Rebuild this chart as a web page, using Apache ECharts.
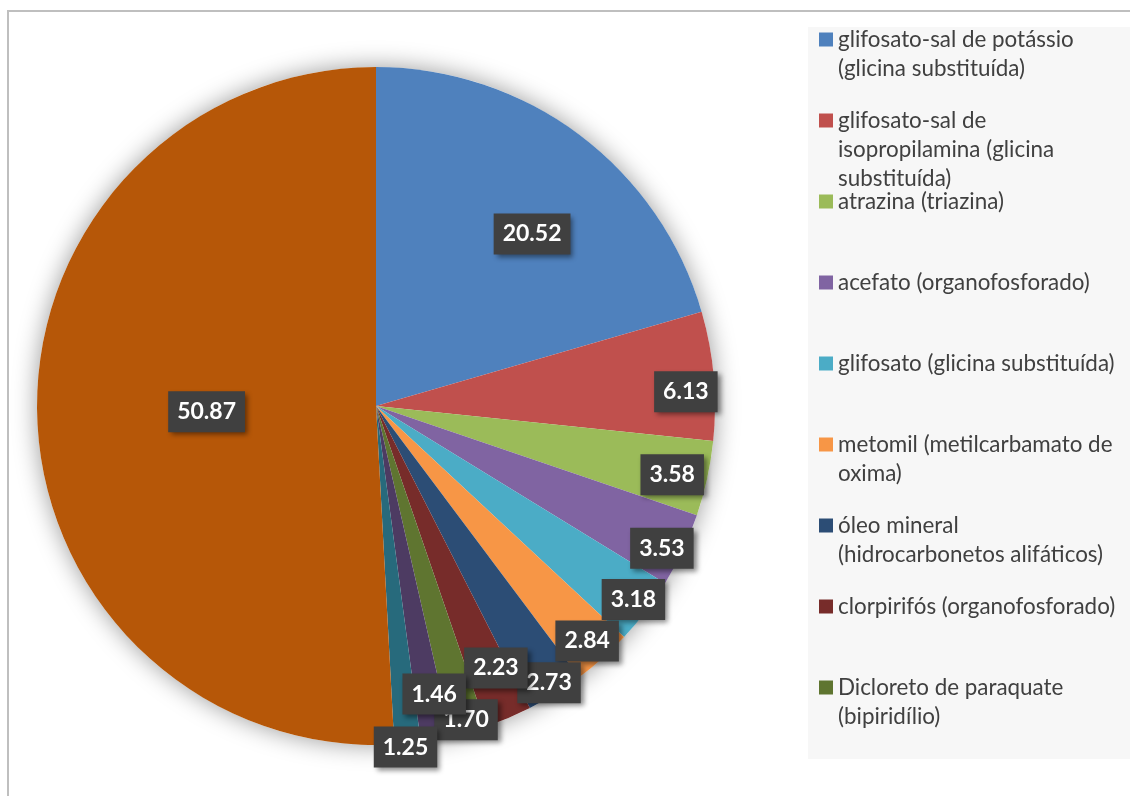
<!DOCTYPE html>
<html>
<head>
<meta charset="utf-8">
<script src="https://cdn.jsdelivr.net/npm/echarts@6/dist/echarts.min.js"></script>
<style>
  html, body { margin: 0; padding: 0; background: #ffffff; }
  #chart { width: 1130px; height: 796px; }
</style>
</head>
<body>
<div id="chart"></div>
<script>
// Active ingredients (share of sales, %)
const categories = [
  'glifosato-sal de potássio (glicina substituída)',
  'glifosato-sal de isopropilamina (glicina substituída)',
  'atrazina (triazina)',
  'acefato (organofosforado)',
  'glifosato (glicina substituída)',
  'metomil (metilcarbamato de oxima)',
  'óleo mineral (hidrocarbonetos alifáticos)',
  'clorpirifós (organofosforado)',
  'Dicloreto de paraquate (bipiridílio)',
  '2,4-D (ácido ariloxialcanoico)',
  'mancozebe (ditiocarbamato)',
  'demais ingredientes ativos'
];
const values = [20.52, 6.13, 3.58, 3.53, 3.18, 2.84, 2.73, 2.23, 1.70, 1.46, 1.25, 50.87];

// Legend entries as they wrap in the key (only the first nine are listed)
const legendText = [
  'glifosato-sal de potássio\n(glicina substituída)',
  'glifosato-sal de\nisopropilamina (glicina\nsubstituída)',
  'atrazina (triazina)',
  'acefato (organofosforado)',
  'glifosato (glicina substituída)',
  'metomil (metilcarbamato de\noxima)',
  'óleo mineral\n(hidrocarbonetos alifáticos)',
  'clorpirifós (organofosforado)',
  'Dicloreto de paraquate\n(bipiridílio)'
];

// Office palette
const colors = ['#4F81BD', '#C0504D', '#9BBB59', '#8064A2', '#4BACC6', '#F79646',
                '#2C4D75', '#772C2A', '#5F7530', '#4D3B62', '#276A7C', '#B65708'];

// Label placement: fraction of the radius and small angular nudge (degrees)
const labelRadius = [0.685, 0.915, 0.897, 0.942, 0.950, 0.932, 0.963, 0.850, 0.963, 0.867, 1.01, 0.50];
const labelTurn   = [5.3, 2.5, 0.7, 1.3, -0.3, 0, -0.1, -1.6, -0.1, -1.2, 0.4, -0.4];

const CX = 376, CY = 406, R = 339;
const total = values.reduce((a, b) => a + b, 0);
const midAngles = [];
let acc = 0;
values.forEach(v => { midAngles.push((acc + v / 2) / total * 360); acc += v; });

function labelPos(i) {
  const a = (midAngles[i] + labelTurn[i]) * Math.PI / 180;
  const d = labelRadius[i] * R;
  return [CX + d * Math.sin(a), CY - d * Math.cos(a)];
}

// One legend block per entry, on a fixed vertical pitch; the marker sits
// beside the first line, so blank lines are prepended to keep the block's
// middle on that first line.
const LEG_TOP = 39.5, LEG_STEP = 81, LINE_H = 29;
const legends = legendText.map((t, i) => {
  const n = t.split('\n').length;
  const shown = ' \n'.repeat(n - 1) + t;
  return {
    orient: 'vertical',
    left: 819,
    top: LEG_TOP + LEG_STEP * i - (2 * n - 1) * LINE_H / 2,
    padding: 0,
    itemWidth: 14,
    itemHeight: 14,
    itemGap: 0,
    icon: 'rect',
    selectedMode: false,
    data: [categories[i]],
    formatter: () => shown,
    textStyle: {
      fontFamily: 'Lato',
      fontSize: 22.4,
      color: '#404040',
      lineHeight: LINE_H
    }
  };
});

const chart = echarts.init(document.getElementById('chart'), null, { renderer: 'canvas' });
chart.setOption({
  animation: false,
  backgroundColor: '#ffffff',
  color: colors,
  graphic: [
    { type: 'rect', z: -10, shape: { x: 8, y: 11, width: 1300, height: 900 },
      style: { fill: 'none', stroke: '#bfbfbf', lineWidth: 2 } },
    { type: 'rect', z: -9, shape: { x: 808, y: 27, width: 340, height: 732 },
      style: { fill: '#f7f7f7' } }
  ],
  legend: legends,
  series: [
    {
      // soft drop shadow under the whole disc
      type: 'pie',
      silent: true,
      center: [CX, CY],
      radius: R,
      label: { show: false },
      labelLine: { show: false },
      itemStyle: { color: '#ffffff', shadowBlur: 24, shadowColor: 'rgba(0,0,0,0.4)' },
      data: [{ value: 1, name: '' }],
      z: 1
    },
    {
      type: 'pie',
      center: [CX, CY],
      radius: R,
      startAngle: 90,
      clockwise: true,
      z: 2,
      itemStyle: { borderWidth: 0 },
      data: categories.map((c, i) => ({ name: c, value: values[i] })),
      label: {
        show: true,
        position: 'inside',
        formatter: p => values[p.dataIndex].toFixed(2),
        color: '#ffffff',
        fontFamily: 'Lato',
        fontWeight: 'bold',
        fontSize: 23,
        lineHeight: 24,
        backgroundColor: '#404040',
        padding: [8, 9, 9, 9],
        shadowBlur: 5,
        shadowColor: 'rgba(0,0,0,0.45)',
        shadowOffsetX: 3,
        shadowOffsetY: 3
      },
      labelLine: { show: false },
      labelLayout: p => {
        const [x, y] = labelPos(p.dataIndex);
        return { x, y, align: 'center', verticalAlign: 'middle' };
      },
      emphasis: { disabled: true }
    }
  ]
});
</script>
</body>
</html>
